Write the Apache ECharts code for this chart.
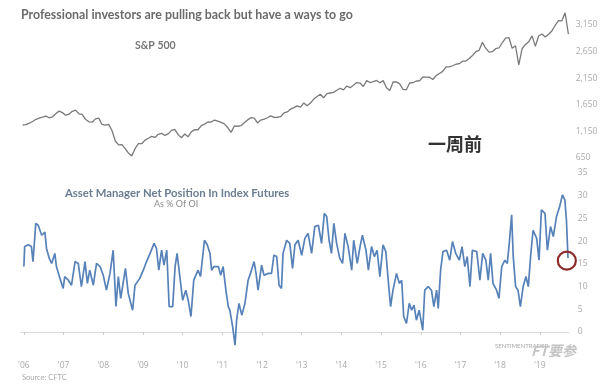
<!DOCTYPE html>
<html><head><meta charset="utf-8">
<script src="https://cdn.jsdelivr.net/npm/echarts@6/dist/echarts.min.js"></script>
<style>html,body{margin:0;padding:0;background:#fff}#c{width:602px;height:388px}</style>
</head><body><div id="c"></div>
<script>
// S&P 500, monthly from mid-June 2006 to March 2020
const spxStart = 2006.47;
const spxMonthly = [
 1270,1277,1304,1336,1378,1401,1418,
 1438,1406,1421,1482,1531,1503,1455,1474,1527,1549,1481,1468,
 1378,1331,1323,1386,1400,1280,1267,1283,1166,969,896,903,
 826,740,690,830,919,919,987,1021,1057,1036,1096,1115,
 1074,1104,1169,1187,1089,1031,1102,1049,1141,1183,1181,1258,
 1286,1327,1326,1364,1345,1321,1292,1219,1131,1253,1247,1258,
 1312,1366,1408,1398,1310,1362,1379,1407,1441,1412,1416,1426,
 1498,1515,1569,1598,1631,1606,1686,1633,1682,1757,1806,1848,
 1783,1859,1872,1884,1924,1960,1931,2003,1972,2018,2068,2059,
 1995,2105,2068,2086,2107,2063,2104,1972,1920,2079,2080,2044,
 1940,1932,2060,2065,2097,2099,2174,2171,2168,2126,2199,2239,
 2279,2364,2363,2384,2412,2423,2470,2472,2519,2575,2648,2674,
 2824,2714,2641,2648,2705,2718,2816,2902,2914,2712,2760,2400,
 2704,2784,2834,2946,2752,2942,2980,2926,2977,3038,3141,3231,
 3226,3380,2980
];
// Asset manager net position, % of open interest (dates as decimal years)
const posDates = [2006.50,2006.52,2006.61,2006.69,2006.73,2006.80,2006.86,2006.95,2006.99,2007.03,
 2007.07,2007.14,2007.20,2007.28,2007.32,2007.41,2007.49,2007.53,2007.62,2007.70,
 2007.79,2007.87,2007.95,2008.04,2008.10,2008.16,2008.25,2008.33,2008.42,2008.50,
 2008.58,2008.67,2008.75,2008.82,2008.88,2008.94,2009.00,2009.06,2009.13,2009.24,
 2009.30,2009.42,2009.51,2009.59,2009.68,2009.78,2009.84,2009.90,2009.97,2010.03,
 2010.10,2010.16,2010.25,2010.31,2010.36,2010.43,2010.50,2010.58,2010.64,2010.71,
 2010.78,2010.89,2010.95,2011.05,2011.12,2011.19,2011.23,2011.29,2011.40,2011.46,
 2011.52,2011.59,2011.65,2011.69,2011.76,2011.82,2011.86,2011.92,2011.99,2012.07,
 2012.15,2012.21,2012.30,2012.35,2012.40,2012.49,2012.55,2012.66,2012.74,2012.80,
 2012.87,2012.93,2012.99,2013.03,2013.12,2013.20,2013.27,2013.33,2013.41,2013.50,
 2013.58,2013.66,2013.75,2013.83,2013.92,2014.00,2014.07,2014.13,2014.19,2014.25,
 2014.31,2014.38,2014.46,2014.53,2014.59,2014.67,2014.76,2014.81,2014.90,2014.97,
 2015.03,2015.12,2015.18,2015.26,2015.33,2015.40,2015.47,2015.55,2015.62,2015.68,
 2015.74,2015.80,2015.89,2015.96,2016.02,2016.07,2016.14,2016.21,2016.27,2016.33,
 2016.39,2016.46,2016.55,2016.60,2016.69,2016.77,2016.83,2016.90,2016.94,2017.00,
 2017.06,2017.15,2017.23,2017.30,2017.38,2017.47,2017.54,2017.61,2017.67,2017.74,
 2017.80,2017.91,2017.99,2018.06,2018.14,2018.20,2018.26,2018.32,2018.41,2018.47,
 2018.54,2018.62,2018.68,2018.73,2018.79,2018.83,2018.89,2018.95,2019.01,2019.08,
 2019.15,2019.21,2019.27,2019.33,2019.42,2019.48,2019.54,2019.63,2019.69,2019.77,
 2019.84,2019.92,2020.00,2020.07,2020.13,2020.17,2020.21];
const posValues = [14.4,18.8,19.2,18.8,15.5,23.9,23.5,21.3,21.0,22.0,
 18.4,16.2,15.1,17.3,14.4,11.8,9.6,12.2,11.4,10.3,
 15.5,15.1,10.0,15.5,10.7,13.6,10.3,15.1,14.4,12.5,
 9.2,12.9,18.0,5.6,12.2,7.4,10.7,14.0,8.5,4.8,
 10.3,11.8,13.6,15.5,17.3,19.5,18.4,13.6,18.0,14.7,
 18.0,5.6,5.6,14.4,17.3,12.2,7.0,9.2,7.0,3.4,
 11.4,13.6,12.2,20.2,19.2,17.3,13.6,14.4,14.4,12.5,
 14.4,9.2,5.6,4.8,1.2,-2.9,2.6,6.3,3.7,6.3,
 11.4,12.9,15.5,12.9,9.2,14.7,12.5,12.9,12.9,16.9,
 16.6,10.3,9.6,17.3,20.2,19.5,14.0,19.2,20.2,16.9,
 20.6,21.7,17.3,23.2,23.5,19.5,26.1,25.4,20.2,17.3,
 23.9,19.5,16.2,15.1,21.7,18.8,13.6,20.2,15.1,18.8,
 21.3,18.0,13.6,18.8,16.6,18.0,12.2,19.2,17.7,11.4,
 5.6,9.2,12.9,10.7,11.4,3.4,1.9,6.3,4.8,5.9,
 2.6,4.8,0.4,9.2,10.0,9.2,5.6,9.2,5.2,13.6,
 17.7,18.0,15.8,19.9,17.3,15.8,18.8,14.4,16.6,10.0,
 18.0,17.7,11.4,17.3,15.8,11.4,17.3,10.7,9.2,7.4,
 14.4,15.8,15.1,19.5,25.8,16.6,10.0,9.2,5.6,10.0,
 12.2,10.0,16.9,22.4,20.6,15.8,26.9,26.1,18.0,23.2,
 21.0,25.4,27.6,30.2,29.1,24.7,16.3];
const yearTicks = [2006.5,2007.5,2008.5,2009.5,2010.5,2011.5,2012.5,2013.5,2014.5,2015.5,2016.5,2017.5,2018.5,2019.5];
const yearLabels = ["'06","'07","'08","'09","'10","'11","'12","'13","'14","'15","'16","'17","'18","'19"];
const spxTicks = [650,1150,1650,2150,2650,3150];
const posTicks = [0,5,10,15,20,25,30,35];

const xMin = 2006.42, xMax = 2020.23;
const spxData = spxMonthly.map((v,i)=>[spxStart + i/12, v]);
const n = Math.min(posDates.length, posValues.length);
const posData = posDates.slice(0,n).map((d,i)=>[d, posValues[i]]);
const last = posData[posData.length-1];

const chart = echarts.init(document.getElementById('c'), null, {renderer:'canvas'});
const lblFont = 'Open Sans';
chart.setOption({
  animation:false,
  backgroundColor:'#ffffff',
  title:{text:'Professional investors are pulling back but have a ways to go', left:16, top:4,
    textStyle:{fontSize:12.4,fontWeight:'bold',color:'#6b6b6b',fontFamily:'Lato'}},
  grid:[
    {left:20.7, right:33.2, top:11.7, height:146.3},
    {left:20.7, right:33.2, top:173, height:181.7}
  ],
  xAxis:[
    {gridIndex:0,type:'value',min:xMin,max:xMax,show:false},
    {gridIndex:1,type:'value',min:xMin,max:xMax,
      axisLine:{show:true,lineStyle:{color:'#dddddd',width:1}},
      axisTick:{show:true,customValues:yearTicks,length:3,lineStyle:{color:'#cccccc'}},
      axisLabel:{customValues:yearTicks,margin:6,color:'#aaaaaa',fontSize:8.5,fontFamily:lblFont,
        formatter:v=>{const k=yearTicks.findIndex(t=>Math.abs(t-v)<0.01);return k>=0?yearLabels[k]:'';}},
      splitLine:{show:false}}
  ],
  yAxis:[
    {gridIndex:0,type:'value',position:'right',min:650,max:3400,
      axisLine:{show:false},axisTick:{show:false},splitLine:{show:false},
      axisLabel:{customValues:spxTicks,margin:7,color:'#aaaaaa',fontSize:8.5,fontFamily:lblFont,
        formatter:v=>v.toLocaleString('en-US')}},
    {gridIndex:1,type:'value',position:'right',min:-5,max:35,interval:5,
      axisLine:{show:false},axisTick:{show:false},splitLine:{show:false},
      axisLabel:{customValues:posTicks,margin:9,color:'#aaaaaa',fontSize:8.5,fontFamily:lblFont,
        formatter:v=>v<0?'':String(v)}}
  ],
  series:[
    {type:'line',xAxisIndex:0,yAxisIndex:0,data:spxData,symbol:'none',
      lineStyle:{color:'#7a7a7a',width:1.3}},
    {type:'line',xAxisIndex:1,yAxisIndex:1,data:posData,symbol:'none',
      lineStyle:{color:'#5681b9',width:1.7},
      markPoint:{symbol:'circle',symbolSize:18,silent:true,
        itemStyle:{color:'rgba(255,255,255,0)',borderColor:'#8b2b2b',borderWidth:2.2},
        label:{show:false},
        data:[{coord:[last[0]-0.03,last[1]-0.6]}]}}
  ],
  graphic:[
    {type:'text',left:135,top:40,style:{text:'S&P 500',font:'bold 10.5px Lato',fill:'#777777'}},
    {type:'text',left:428,top:135,style:{text:'一周前',font:'bold 18px "Noto Sans CJK SC"',fill:'#333333'}},
    {type:'text',left:65,top:188,style:{text:'Asset Manager Net Position In Index Futures',font:'bold 11.3px Lato',fill:'#6b7d92'}},
    {type:'text',left:154,top:200,style:{text:'As % Of OI',font:'9px Lato',fill:'#8a8a8a'}},
    {type:'text',left:22,top:374,style:{text:'Source: CFTC',font:'7.5px Lato',fill:'#aaaaaa'}},
    {type:'text',left:495,top:343,style:{text:'SENTIMENTRADER',font:'6px Lato',fill:'#aaaaaa'}},
    {type:'text',left:531,top:344,style:{text:'FT要参',font:'italic bold 14px "Noto Sans CJK SC"',fill:'#c4c4c4'}}
  ]
});
</script></body></html>
